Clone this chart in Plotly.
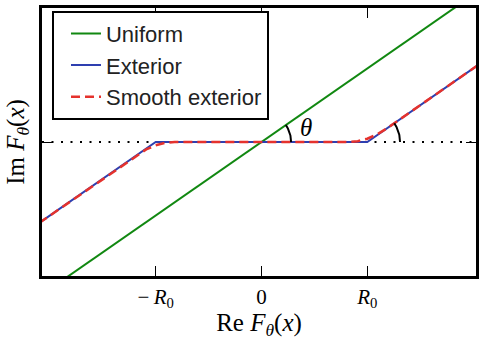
import numpy as np
import plotly.graph_objects as go

# ---- data (R0 = 1, slope tan(theta)) ----
x_uniform = [-2.1, 2.1]
y_uniform = [-1.449, 1.449]

x_exterior = [-2.1, -1.0, 1.0, 2.1]
y_exterior = [-0.759, 0.0, 0.0, 0.759]

x_smooth = [-2.1, -1.18, -1.09, -1.0, -0.91, -0.82, 0.82, 0.91, 1.0, 1.09, 1.18, 2.1]
y_smooth = [-0.759, -0.124, -0.070, -0.031, -0.008, 0.0, 0.0, 0.008, 0.031, 0.070, 0.124, 0.759]

x_ticks = [-1.0, 0.0, 1.0]
x_ticklabels = ["\u2212\u2009<i>R</i><sub>0</sub>", "0", "<i>R</i><sub>0</sub>"]

x_range = [-2.075, 2.028]
y_range = [-1.258, 1.258]
theta = float(np.arctan(0.69))

fig = go.Figure()

# dotted zero line
fig.add_trace(go.Scatter(x=x_range, y=[0, 0], mode="lines",
                         line=dict(color="black", width=2, dash="2px,7.5px"),
                         showlegend=False, hoverinfo="skip"))

fig.add_trace(go.Scatter(x=x_uniform, y=y_uniform, mode="lines", name="Uniform",
                         line=dict(color="#118811", width=2), legendgroup="a"))
fig.add_trace(go.Scatter(x=x_exterior, y=y_exterior, mode="lines", name="Exterior",
                         line=dict(color="#2e3fb0", width=2), legendgroup="b"))
fig.add_trace(go.Scatter(x=x_smooth, y=y_smooth, mode="lines", name="Smooth exterior",
                         line=dict(color="#e5322d", width=2.5, dash="9px,5px"), legendgroup="c"))

# angle arcs
def arc(cx, r):
    t = np.linspace(0, theta, 30)
    return cx + r * np.cos(t), r * np.sin(t)

for cx, r in [(0.0, 0.28), (1.0, 0.31)]:
    ax_, ay_ = arc(cx, r)
    fig.add_trace(go.Scatter(x=ax_, y=ay_, mode="lines", line=dict(color="black", width=2),
                             showlegend=False, hoverinfo="skip"))

fig.add_annotation(x=0.42, y=0.14, text="<i>θ</i>", showarrow=False,
                   font=dict(family="Liberation Serif", size=25, color="black"))

axis_common = dict(showline=True, linecolor="black", linewidth=2.5, mirror="ticks",
                   ticks="inside", ticklen=10, tickwidth=1, tickcolor="black",
                   showgrid=False, zeroline=False)

fig.update_xaxes(range=x_range, tickvals=x_ticks, ticktext=x_ticklabels,
                 tickfont=dict(family="Liberation Serif", size=21, color="black"),
                 title=dict(text="Re <i>F</i><sub><i>θ</i></sub>(<i>x</i>)",
                            font=dict(family="Liberation Serif", size=25, color="black"),
                            standoff=4),
                 **axis_common)
fig.update_yaxes(range=y_range, tickvals=[0], showticklabels=False,
                 title=dict(text="Im <i>F</i><sub><i>θ</i></sub>(<i>x</i>)",
                            font=dict(family="Liberation Serif", size=25, color="black"),
                            standoff=8),
                 **axis_common)

fig.update_layout(
    width=479, height=340,
    margin=dict(l=42, r=0, t=8, b=64),
    plot_bgcolor="white", paper_bgcolor="white",
    legend=dict(x=0.023, y=0.990, xanchor="left", yanchor="top",
                bordercolor="black", borderwidth=2, bgcolor="white",
                font=dict(family="Liberation Sans", size=22, color="#222222"),
                tracegroupgap=0, traceorder="grouped", indentation=12),
)

fig.write_html("out.html")
